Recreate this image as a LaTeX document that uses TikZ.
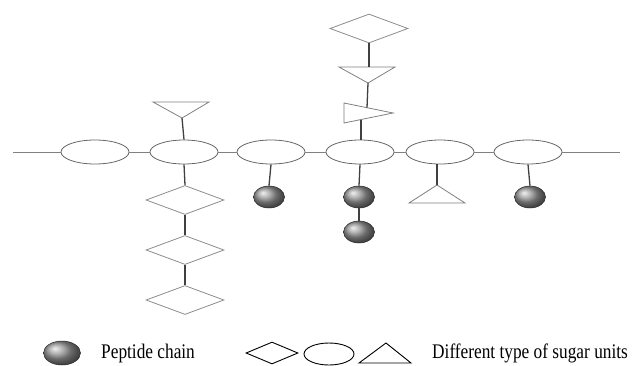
\documentclass[tikz,border=0pt]{standalone}
\usepackage{fontspec}
\setmainfont{Liberation Serif}
\usetikzlibrary{shapes.geometric}
\begin{document}
\begin{tikzpicture}[x=1pt,y=-1pt,
 sugar/.style={ellipse,draw=black!60,line width=0.8pt,minimum width=68pt,minimum height=24pt,inner sep=0pt},
 dia/.style={diamond,draw=black!45,line width=0.8pt,minimum width=78pt,minimum height=29pt,inner sep=0pt},
 tri/.style={draw=black!50,line width=0.8pt,line join=miter},
 pep/.style={ellipse,ball color=black!40,draw=black!85,line width=0.5pt,minimum width=31pt,minimum height=22pt,inner sep=0pt},
 bond/.style={draw=black!50,line width=0.8pt},
 stem/.style={draw=black!75,line width=1.3pt},
 legk/.style={draw=black,line width=0.9pt,inner sep=0pt},
 lab/.style={font=\fontsize{17.3pt}{20pt}\selectfont,anchor=base west,inner sep=0pt}]
\useasboundingbox (0,0) rectangle (632,365);
% backbone
\coordinate (L) at (13,152);
\coordinate (R) at (620,152);
\node[sugar] (e1) at (95,152) {};
\node[sugar] (e2) at (184,152) {};
\node[sugar] (e3) at (271,152) {};
\node[sugar] (e4) at (360,152) {};
\node[sugar] (e5) at (440,152) {};
\node[sugar] (e6) at (528,152) {};
\draw[bond] (L) -- (e1.west);
\draw[bond] (e1.east) -- (e2.west);
\draw[bond] (e2.east) -- (e3.west);
\draw[bond] (e3.east) -- (e4.west);
\draw[bond] (e4.east) -- (e5.west);
\draw[bond] (e5.east) -- (e6.west);
\draw[bond] (e6.east) -- (R);
% branch on e2: triangle above
\coordinate (t1a) at (153,102);
\coordinate (t1b) at (209,102);
\coordinate (t1c) at (182,118);
\draw[tri] (t1a) -- (t1b) -- (t1c) -- cycle;
\draw[stem] (e2.north) -- (t1c);
% branch on e2: diamonds below
\node[dia] (d1) at (185,200) {};
\node[dia] (d2) at (185,250) {};
\node[dia] (d3) at (185,300) {};
\draw[stem] (e2.south) -- (d1.north);
\draw[stem] (d1.south) -- (d2.north);
\draw[stem] (d2.south) -- (d3.north);
% e3 peptide
\node[pep] (p1) at (269,197) {};
\draw[stem] (e3.south) -- (p1.north);
% e4 peptides
\node[pep] (p2) at (359,197) {};
\node[pep] (p3) at (359,232) {};
\draw[stem] (e4.south) -- (p2.north);
\draw[stem] (p2.south) -- (p3.north);
% e4 upper branch
\coordinate (t2a) at (344,103);
\coordinate (t2b) at (344,123);
\coordinate (t2c) at (393,113);
\draw[tri] (t2a) -- (t2c) -- (t2b) -- cycle;
\coordinate (t2bot) at (361,119.5);
\coordinate (t2top) at (367,107.7);
\draw[stem] (e4.north -| t2bot) -- (t2bot);
\coordinate (t3a) at (339,67);
\coordinate (t3b) at (395,67);
\coordinate (t3c) at (368,83);
\draw[tri] (t3a) -- (t3b) -- (t3c) -- cycle;
\draw[stem] (t2top) -- (t3c);
\node[dia] (d0) at (369,28.5) {};
\coordinate (t3top) at (369,67);
\draw[stem] (d0.south) -- (t3top);
% e5 triangle
\coordinate (t4a) at (437,185);
\coordinate (t4b) at (409,203);
\coordinate (t4c) at (465,203);
\draw[tri] (t4a) -- (t4b) -- (t4c) -- cycle;
\draw[stem] (e5.south -| t4a) -- (t4a);
% e6 peptide
\node[pep] (p4) at (530,197) {};
\draw[stem] (e6.south) -- (p4.north);
% legend
\node[pep,minimum width=37pt,minimum height=24pt] (lb) at (62,353) {};
\node[lab] (tpep) at (101,358) {\scalebox{1}[1.2]{Peptide chain}};
\node[legk,diamond,minimum width=52pt,minimum height=22pt] (ld) at (272,353) {};
\node[legk,ellipse,minimum width=50pt,minimum height=22pt] (le) at (329,354) {};
\coordinate (lta) at (386,343);
\coordinate (ltb) at (359,363);
\coordinate (ltc) at (411,363);
\draw[legk] (lta) -- (ltb) -- (ltc) -- cycle;
\node[lab] (tsug) at (432,358) {\scalebox{1}[1.2]{Different type of sugar units}};
\end{tikzpicture}
\end{document}
